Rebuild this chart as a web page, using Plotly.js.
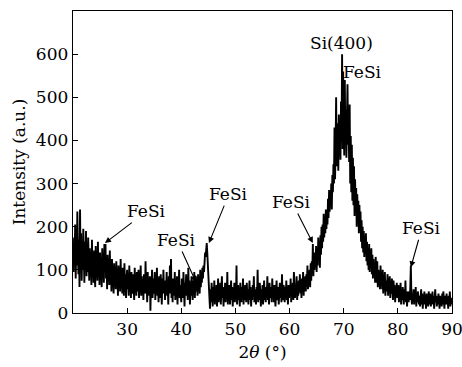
<!DOCTYPE html>
<html>
<head>
<meta charset="utf-8">
<script src="https://cdn.plot.ly/plotly-3.0.1.min.js"></script>
<style>html,body{margin:0;padding:0;background:#fff;}#chart{width:462px;height:367px;}</style>
</head>
<body>
<div id="chart"></div>
<script>
// 2θ scan: first angle and step (degrees)
const startAngle = 20.0;
const stepAngle = 0.1;
// Intensity, one row per degree (20.0 ... 89.9), then 90.0
const intensity = [
150,95,175,120,205,80,160,110,235,130,
90,170,60,240,115,185,75,145,100,195,
120,70,165,105,190,85,140,95,175,110,
75,150,100,130,65,170,90,125,70,145,
110,60,155,90,130,75,165,95,120,65,
140,85,115,60,150,95,125,70,160,100,
160,80,120,55,135,90,110,65,145,75,
105,50,125,80,95,45,115,70,100,55,
120,65,90,40,110,75,95,50,125,60,
85,45,105,70,40,115,60,90,35,80,
100,55,75,40,110,65,85,35,95,60,
45,90,70,30,105,55,80,40,95,65,
50,100,35,75,60,110,40,85,55,70,
30,90,60,45,120,55,75,25,95,50,
65,40,85,5,70,55,100,35,80,45,
60,95,30,75,50,105,40,70,25,85,
55,35,90,60,20,80,45,100,50,70,
30,75,55,95,40,65,20,85,50,110,
45,125,35,70,25,80,55,40,95,30,
60,40,85,20,70,50,100,35,65,45,
25,80,55,35,95,45,15,70,50,90,
40,60,30,105,45,75,20,65,40,85,
55,30,75,45,95,35,65,85,50,70,
40,90,55,75,45,100,60,85,70,105,
80,110,95,125,140,130,150,162,140,110,
85,60,30,10,55,25,70,40,15,60,
35,75,20,50,30,65,15,45,80,25,
55,30,70,20,45,85,35,60,15,50,
40,70,25,55,35,95,20,50,30,65,
20,45,75,30,60,15,50,35,70,25,
55,35,110,20,45,65,30,55,15,70,
40,25,60,35,80,20,50,30,65,45,
25,70,35,55,20,45,75,30,60,15,
50,30,65,40,85,25,55,35,20,60,
40,100,25,50,30,70,45,15,55,35,
65,20,45,75,30,55,25,60,40,85,
30,50,20,70,35,45,60,25,80,40,
55,25,65,35,15,50,75,30,45,60,
20,45,70,35,55,25,90,40,30,65,
45,25,60,40,75,30,50,20,65,35,
55,40,80,25,60,45,70,30,95,50,
35,65,45,85,30,60,40,75,50,90,
45,70,35,80,55,95,40,75,60,85,
50,90,65,110,55,85,70,100,60,115,
75,120,95,160,85,140,100,130,115,155,
95,150,110,175,125,165,105,180,135,200,
150,205,165,230,175,215,185,240,195,225,
205,265,220,285,235,275,250,300,240,320,
280,345,300,430,310,380,500,340,395,440,
330,460,370,420,355,490,400,600,380,560,
420,365,540,400,470,360,455,530,390,445,
350,483,300,410,280,390,260,360,250,340,
225,310,240,290,200,275,215,260,185,250,
200,235,165,215,150,200,140,190,130,175,
150,185,120,165,110,150,100,160,95,140,
120,150,90,135,80,125,85,115,70,130,
105,70,120,60,100,75,95,55,110,65,
85,55,100,45,80,60,95,40,75,50,
65,90,40,75,55,85,35,70,45,80,
55,30,75,45,65,25,60,40,70,35,
45,65,25,55,35,70,20,50,30,60,
40,20,55,30,75,25,45,15,50,35,
25,50,30,60,110,40,20,45,30,55,
20,45,30,60,15,40,25,50,35,20,
40,15,35,55,20,45,10,35,25,50,
20,40,10,45,25,35,15,50,30,20,
45,15,35,25,50,20,40,10,30,55,
25,40,15,35,20,45,30,10,40,25,
35,15,45,20,50,25,10,40,30,20,
45,20,35,10,40,25,50,15,35,25,
20
];
const xTickVals = [30, 40, 50, 60, 70, 80, 90];
const yTickVals = [0, 100, 200, 300, 400, 500, 600];
// Peak labels: text, angle, intensity of arrow tip
const peakLabels = ["FeSi", "FeSi", "FeSi", "FeSi", "FeSi"];
const peakAngles = [25.9, 42.7, 45.1, 64.3, 82.4];
const peakTips = [162, 72, 162, 162, 106];
const siLabel = "Si(400)";
const siAngle = 69.6;
const siLabelY = 626;
const feSiTopLabel = "FeSi";
const feSiTopAngle = 73.5;
const feSiTopY = 558;

const fontFam = 'DejaVu Serif, serif';
const fsz = 17;
const offsets = [[42, -32], [-19, -42], [20, -49], [-21, -41], [11, -39]];

const annotations = peakLabels.map((t, i) => ({
  x: peakAngles[i], y: peakTips[i], xref: 'x', yref: 'y',
  text: t, showarrow: true, arrowhead: 2, arrowsize: 1.1, arrowwidth: 1.1,
  arrowcolor: '#000', ax: offsets[i][0], ay: offsets[i][1],
  font: {family: fontFam, size: fsz, color: '#000'}
}));
annotations.push({x: siAngle, y: siLabelY, xref: 'x', yref: 'y', text: siLabel,
  showarrow: false, font: {family: fontFam, size: fsz, color: '#000'}});
annotations.push({x: feSiTopAngle, y: feSiTopY, xref: 'x', yref: 'y', text: feSiTopLabel,
  showarrow: false, font: {family: fontFam, size: fsz, color: '#000'}});

const trace = {
  type: 'scatter', mode: 'lines', x0: startAngle, dx: stepAngle, y: intensity,
  line: {color: '#000', width: 1.9}, hoverinfo: 'skip'
};

const axisCommon = {
  showgrid: false, zeroline: false, showline: true, linecolor: '#000', linewidth: 1.3,
  mirror: true, ticks: 'inside', ticklen: 5, tickwidth: 1, tickcolor: '#000',
  ticklabeloverflow: 'allow',
  tickfont: {family: fontFam, size: fsz, color: '#000'}
};

const layout = {
  width: 462, height: 367,
  margin: {l: 73, r: 10, t: 11, b: 54},
  paper_bgcolor: '#fff', plot_bgcolor: '#fff',
  showlegend: false,
  font: {family: fontFam, color: '#000'},
  xaxis: Object.assign({}, axisCommon, {
    range: [20, 90], tickvals: xTickVals, ticktext: xTickVals.map(String),
    title: {text: '2<i>θ</i> (°)', font: {family: fontFam, size: fsz, color: '#000'}, standoff: 8}
  }),
  yaxis: Object.assign({}, axisCommon, {
    range: [0, 700], tickvals: yTickVals, ticktext: yTickVals.map(String),
    title: {text: 'Intensity (a.u.)', font: {family: fontFam, size: fsz, color: '#000'}, standoff: 6}
  }),
  annotations: annotations
};

Plotly.newPlot('chart', [trace], layout, {staticPlot: true, displayModeBar: false});
</script>
</body>
</html>
